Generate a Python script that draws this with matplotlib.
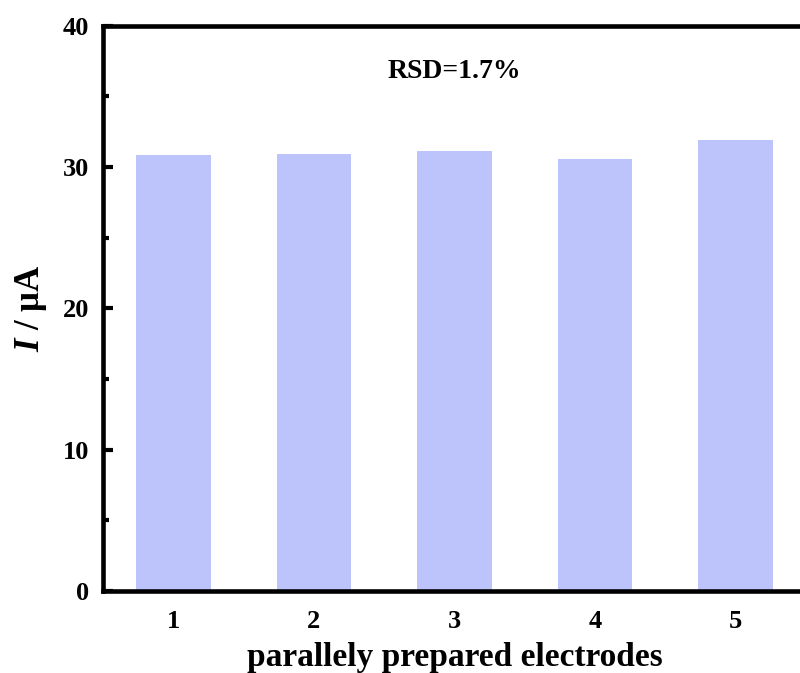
import matplotlib
matplotlib.use("Agg")
import matplotlib.pyplot as plt
from matplotlib.ticker import MultipleLocator

electrodes = [1, 2, 3, 4, 5]
current_uA = [30.86, 30.93, 31.16, 30.55, 31.92]
rsd_text = "RSD=1.7%"

plt.rcParams["font.family"] = ["Liberation Serif", "DejaVu Serif"]
plt.rcParams["font.weight"] = "bold"
plt.rcParams["mathtext.fontset"] = "custom"
plt.rcParams["mathtext.it"] = "Liberation Serif:italic:bold"
plt.rcParams["mathtext.rm"] = "Liberation Serif:bold"

fig = plt.figure(figsize=(8.0, 6.73), dpi=100)
W, H = 800, 673
left, right, top, bottom = 103, 806, 25.8, 591
ax = fig.add_axes([left / W, 1 - bottom / H, (right - left) / W, (bottom - top) / H])

ax.bar(electrodes, current_uA, width=0.53, color="#bcc4fb", edgecolor="none", zorder=1)

ax.set_xlim(0.5, 5.5)
ax.set_ylim(0, 40)
ax.set_xticks(electrodes)
ax.set_xticklabels([str(e) for e in electrodes])
ax.yaxis.set_major_locator(MultipleLocator(10))
ax.yaxis.set_minor_locator(MultipleLocator(5))

for s in ax.spines.values():
    s.set_linewidth(3.3)
    s.set_zorder(3)

ax.tick_params(axis="x", length=0, pad=14, labelsize=19)
ax.tick_params(axis="y", which="major", direction="in", length=7, width=3, pad=10, labelsize=19)
ax.tick_params(axis="y", which="minor", direction="in", length=4, width=3)
for lbl in ax.get_xticklabels() + ax.get_yticklabels():
    lbl.set_fontweight("bold")

ax.set_xlabel("parallely prepared electrodes", fontsize=24, fontweight="bold", labelpad=6)
ax.set_ylabel(r"$I$ / μA", fontsize=25, fontweight="bold", labelpad=10)

ax.text(3.0, 36.8, rsd_text, ha="center", va="center", fontsize=20, fontweight="bold")

fig.savefig("out.png", dpi=100)
